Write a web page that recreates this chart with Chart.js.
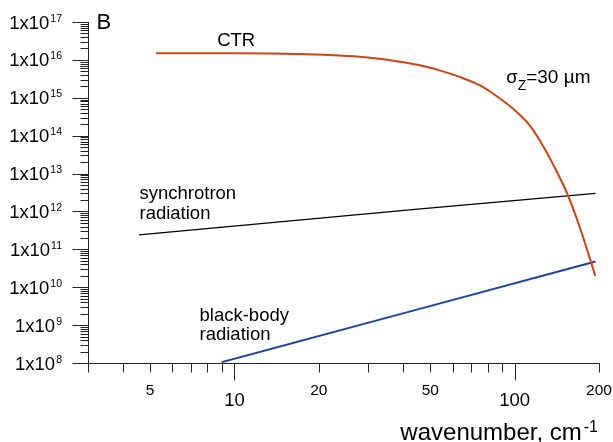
<!DOCTYPE html>
<html>
<head>
<meta charset="utf-8">
<script src="https://cdn.jsdelivr.net/npm/chart.js@4/dist/chart.umd.min.js"></script>
<style>
html,body{margin:0;padding:0;background:#fff;}
canvas{display:block;}
</style>
</head>
<body>
<canvas id="c" width="613" height="442"></canvas>
<script>
// ---- data ----
const ctrWavenumber = [5.25, 10, 18.3, 23.7, 29.2, 33.0, 38.9, 45.8, 54.0, 63.6, 74.9, 83.6, 98.5, 113.0, 127.8, 136.8, 154.8, 170.4, 194];
const ctrIntensity  = [1.5e16, 1.5e16, 1.41e16, 1.30e16, 1.175e16, 1.07e16, 8.95e15, 7.2e15, 5.3e15, 3.55e15, 2.15e15, 1.3e15, 5.2e14, 1.9e14, 4.6e13, 1.8e13, 2.7e12, 4.0e11, 2.0e10];

const synWavenumber = [4.56, 45.1, 194.3];
const synIntensity  = [2.4e11, 1.15e12, 3.0e12];

const bbWavenumber = [9.0, 45.1, 194.3];
const bbIntensity  = [1.05e8, 2.6e9, 4.8e10];

const yTickExponents = [8, 9, 10, 11, 12, 13, 14, 15, 16, 17];
const yTickBase = '1x10';
const xMajorTicks = [10, 100];
const xMinorTicks = [3, 4, 5, 6, 7, 8, 9, 20, 30, 40, 50, 60, 70, 80, 90, 200];
const xMajorLabels = ['10', '100'];
const xMinorLabelValues = [5, 20, 50, 200];
const xMinorLabels = ['5', '20', '50', '200'];

const panelLabel = 'B';
const xTitle = 'wavenumber, cm';
const xTitleSup = '-1';
const ctrLabel = 'CTR';
const sigmaLabel = ['σ', 'Z', '=30 µm'];
const synLabel = ['synchrotron', 'radiation'];
const bbLabel = ['black-body', 'radiation'];

const FONT = '"Liberation Sans", Arial, Helvetica, sans-serif';

function pts(xs, ys) { return xs.map((v, i) => ({ x: v, y: ys[i] })); }

const axesPlugin = {
  id: 'customAxes',
  afterDraw(chart) {
    const { ctx, chartArea: a, scales: { x, y } } = chart;
    ctx.save();
    ctx.strokeStyle = '#222';
    ctx.lineWidth = 1;
    const L = Math.round(a.left) + 0.5;
    const B = Math.round(a.bottom) + 0.5;

    // axis lines
    ctx.beginPath();
    ctx.moveTo(L, a.top); ctx.lineTo(L, B);
    ctx.moveTo(L, B); ctx.lineTo(Math.round(a.right) + 0.5, B);
    ctx.stroke();

    // y ticks
    ctx.beginPath();
    yTickExponents.forEach(e => {
      const py = Math.round(y.getPixelForValue(Math.pow(10, e))) + 0.5;
      ctx.moveTo(L - 16, py); ctx.lineTo(L, py);
      if (e < yTickExponents[yTickExponents.length - 1]) {
        for (let m = 2; m <= 9; m++) {
          const pm = Math.round(y.getPixelForValue(m * Math.pow(10, e))) + 0.5;
          ctx.moveTo(L - 8, pm); ctx.lineTo(L, pm);
        }
      }
    });
    // x ticks
    xMinorTicks.forEach(v => {
      const px = Math.round(x.getPixelForValue(v)) + 0.5;
      ctx.moveTo(px, B); ctx.lineTo(px, B + 9);
    });
    xMajorTicks.forEach(v => {
      const px = Math.round(x.getPixelForValue(v)) + 0.5;
      ctx.moveTo(px, B); ctx.lineTo(px, B + 17);
    });
    ctx.stroke();

    ctx.fillStyle = '#000';
    // y tick labels 1x10^n
    yTickExponents.forEach(e => {
      const py = y.getPixelForValue(Math.pow(10, e));
      const right = a.left - 26;
      ctx.font = '10.5px ' + FONT;
      ctx.textAlign = 'right';
      ctx.textBaseline = 'alphabetic';
      const sup = String(e);
      const sw = ctx.measureText(sup).width;
      ctx.fillText(sup, right, py - 0.5);
      ctx.font = '18.5px ' + FONT;
      ctx.fillText(yTickBase, right - sw - 1, py + 6.6);
    });

    // x tick labels
    ctx.textAlign = 'center';
    ctx.textBaseline = 'middle';
    ctx.font = '15.5px ' + FONT;
    xMinorLabelValues.forEach((v, i) => {
      ctx.fillText(xMinorLabels[i], x.getPixelForValue(v), a.bottom + 27.5);
    });
    ctx.font = '18.5px ' + FONT;
    xMajorTicks.forEach((v, i) => {
      ctx.fillText(xMajorLabels[i], x.getPixelForValue(v), a.bottom + 38);
    });

    // x axis title with superscript
    ctx.textBaseline = 'alphabetic';
    ctx.textAlign = 'left';
    ctx.font = '16px ' + FONT;
    const supW = ctx.measureText(xTitleSup).width;
    ctx.font = '24px ' + FONT;
    const tW = ctx.measureText(xTitle).width;
    const tRight = a.right - 1;
    const tLeft = tRight - supW - 2 - tW;
    ctx.fillText(xTitle, tLeft, a.bottom + 77);
    ctx.font = '16px ' + FONT;
    ctx.fillText(xTitleSup, tRight - supW, a.bottom + 68.5);

    // panel label
    ctx.font = '22px ' + FONT;
    ctx.fillText(panelLabel, a.left + 8.5, a.top + 6.6);

    // annotations (anchored in data space)
    ctx.font = '18.5px ' + FONT;
    ctx.fillText(ctrLabel, x.getPixelForValue(8.67), y.getPixelForValue(2.3e16));

    let sx = x.getPixelForValue(93.3), sy = y.getPixelForValue(2.5e15);
    ctx.fillText(sigmaLabel[0], sx, sy);
    sx += ctx.measureText(sigmaLabel[0]).width;
    ctx.font = '14px ' + FONT;
    ctx.fillText(sigmaLabel[1], sx, sy + 7);
    sx += ctx.measureText(sigmaLabel[1]).width;
    ctx.font = '19px ' + FONT;
    ctx.fillText(sigmaLabel[2], sx, sy);

    ctx.font = '18.5px ' + FONT;
    const synX = x.getPixelForValue(4.58), synY = y.getPixelForValue(2.1e12);
    ctx.fillText(synLabel[0], synX, synY);
    ctx.fillText(synLabel[1], synX, synY + 20);

    const bbX = x.getPixelForValue(7.5), bbY = y.getPixelForValue(1.25e9);
    ctx.fillText(bbLabel[0], bbX, bbY);
    ctx.fillText(bbLabel[1], bbX, bbY + 19);

    ctx.restore();
  }
};

new Chart(document.getElementById('c'), {
  type: 'line',
  data: {
    datasets: [
      {
        label: 'CTR',
        data: pts(ctrWavenumber, ctrIntensity),
        borderColor: '#d4420f',
        borderWidth: 2,
        pointRadius: 0,
        cubicInterpolationMode: 'monotone',
        fill: false
      },
      {
        label: 'synchrotron radiation',
        data: pts(synWavenumber, synIntensity),
        borderColor: '#000000',
        borderWidth: 1.2,
        pointRadius: 0,
        tension: 0,
        fill: false
      },
      {
        label: 'black-body radiation',
        data: pts(bbWavenumber, bbIntensity),
        borderColor: '#1a43a8',
        borderWidth: 2,
        pointRadius: 0,
        tension: 0,
        fill: false
      }
    ]
  },
  options: {
    responsive: false,
    animation: false,
    events: [],
    layout: { padding: { left: 0, right: 14, top: 22, bottom: 0 } },
    scales: {
      x: {
        type: 'logarithmic',
        min: 3, max: 200,
        grid: { display: false },
        border: { display: false },
        ticks: { display: false },
        afterFit(s) { s.height = 79; }
      },
      y: {
        type: 'logarithmic',
        min: 1e8, max: 1e17,
        grid: { display: false },
        border: { display: false },
        ticks: { display: false },
        afterFit(s) { s.width = 88; }
      }
    },
    plugins: {
      legend: { display: false },
      tooltip: { enabled: false }
    }
  },
  plugins: [axesPlugin]
});
</script>
</body>
</html>
